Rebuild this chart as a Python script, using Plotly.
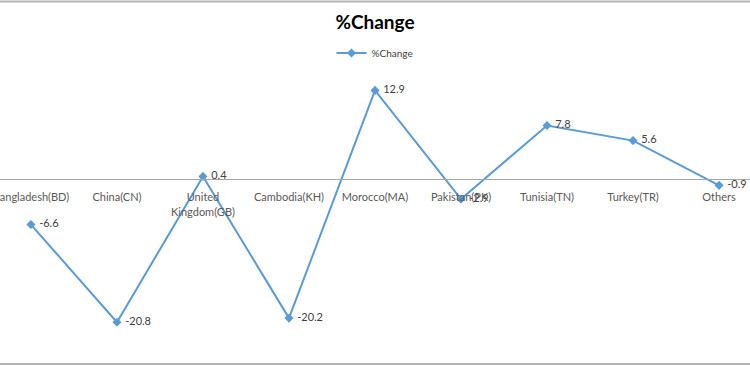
import plotly.graph_objects as go

categories = ["Bangladesh(BD)", "China(CN)", "United<br>Kingdom(GB)", "Cambodia(KH)",
              "Morocco(MA)", "Pakistan(PK)", "Tunisia(TN)", "Turkey(TR)", "Others"]
pct_change = [-6.6, -20.8, 0.4, -20.2, 12.9, -2.9, 7.8, 5.6, -0.9]
series_name = "%Change"
title_text = "%Change"

FONT = "Lato, Liberation Sans, sans-serif"
LINE_COLOR = "#5b9bd5"

y_min, y_max = -27.16, 26.04
x_min, x_max = -0.36, 8.36
zero_pos = (0 - y_min) / (y_max - y_min)

fig = go.Figure()
fig.add_trace(go.Scatter(
    x=list(range(len(categories))), y=pct_change, name=series_name,
    mode="lines+markers+text",
    line=dict(color=LINE_COLOR, width=2),
    marker=dict(symbol="diamond", size=7, color=LINE_COLOR),
    text=[f" {v:g}" for v in pct_change],
    textposition="middle right",
    textfont=dict(family=FONT, size=11, color="#404040"),
    cliponaxis=False,
))

fig.update_layout(
    width=750, height=366,
    margin=dict(l=0, r=0, t=0, b=0),
    paper_bgcolor="white", plot_bgcolor="white",
    font=dict(family=FONT, size=11, color="#595959"),
    title=dict(text="<b>%s</b>" % title_text, x=0.5, xanchor="center",
               y=1 - 22 / 366, yanchor="middle", yref="container",
               font=dict(family=FONT, size=19, color="#000000")),
    showlegend=True,
    legend=dict(orientation="h", x=0.5, xanchor="center", y=1 - 53 / 366,
                yanchor="middle", font=dict(family=FONT, size=10, color="#404040"),
                bgcolor="rgba(0,0,0,0)"),
    xaxis=dict(range=[x_min, x_max], tickmode="array",
               tickvals=list(range(len(categories))), ticktext=categories,
               showgrid=False, zeroline=False, showline=True,
               linecolor="#a6a6a6", linewidth=1, ticks="",
               anchor="free", position=zero_pos, automargin=False,
               ticklabeloverflow="allow", ticklabelstandoff=8,
               tickfont=dict(family=FONT, size=11, color="#595959")),
    yaxis=dict(range=[y_min, y_max], showgrid=False, zeroline=False,
               showticklabels=False, domain=[0, 1], automargin=False),
    shapes=[
        dict(type="line", xref="paper", yref="paper", x0=0, x1=1,
             y0=1 - 1.5 / 366, y1=1 - 1.5 / 366, line=dict(color="#b3b3b3", width=2)),
        dict(type="line", xref="paper", yref="paper", x0=0, x1=1,
             y0=1 - 364 / 366, y1=1 - 364 / 366, line=dict(color="#b3b3b3", width=2)),
    ],
)

fig.write_html("out.html", config={"displayModeBar": False},
               post_script="document.body.style.margin='0';")
